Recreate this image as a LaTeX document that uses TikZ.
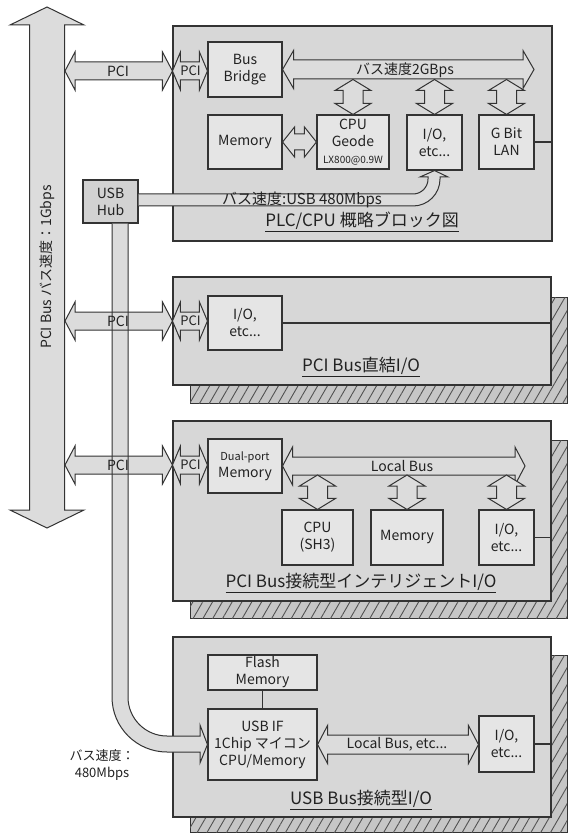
\documentclass[tikz,border=0pt]{standalone}
\usepackage{fontspec}
\setmainfont{Noto Sans CJK JP}
\usetikzlibrary{patterns.meta,calc}
\definecolor{boxbg}{HTML}{D7D7D7}
\definecolor{inbg}{HTML}{E5E5E5}
\definecolor{hubbg}{HTML}{D2D2D2}
\definecolor{arrbg}{HTML}{DCDCDC}
\definecolor{ln}{HTML}{333333}
\definecolor{txt}{HTML}{222222}
\definecolor{hatchbg}{HTML}{C6C6C6}
\newcommand\mybox[7][]{\node[blk,#1,minimum width={#5pt-#3pt},minimum height={#6pt-#4pt}] (#2) at ({(#3+#5)/2},{(#4+#6)/2}) {#7};}
% horizontal double fat arrow: from, to, shaft half, head half, head length
\newcommand\hfat[5]{\draw[fat] let \p1=#1, \p2=#2 in (\x1,\y1) -- ({\x1+#5pt},{\y1+#4pt}) -- ({\x1+#5pt},{\y1+#3pt}) -- ({\x2-#5pt},{\y1+#3pt}) -- ({\x2-#5pt},{\y1+#4pt}) -- (\x2,\y1) -- ({\x2-#5pt},{\y1-#4pt}) -- ({\x2-#5pt},{\y1-#3pt}) -- ({\x1+#5pt},{\y1-#3pt}) -- ({\x1+#5pt},{\y1-#4pt}) -- cycle;}
% vertical double fat arrow: top, bottom, shaft half, head half, head length
\newcommand\vfat[5]{\draw[fat] let \p1=#1, \p2=#2 in (\x1,\y1) -- ({\x1+#4pt},{\y1-#5pt}) -- ({\x1+#3pt},{\y1-#5pt}) -- ({\x1+#3pt},{\y2+#5pt}) -- ({\x1+#4pt},{\y2+#5pt}) -- (\x1,\y2) -- ({\x1-#4pt},{\y2+#5pt}) -- ({\x1-#3pt},{\y2+#5pt}) -- ({\x1-#3pt},{\y1-#5pt}) -- ({\x1-#4pt},{\y1-#5pt}) -- cycle;}
\begin{document}
\begin{tikzpicture}[x=1pt,y=-1pt,
  blk/.style={draw=ln,line width=1.1pt,fill=inbg,align=center,inner sep=0pt,text=txt,font=\fontsize{14}{17}\selectfont},
  big/.style={draw=ln,line width=1.1pt,fill=boxbg,inner sep=0pt},
  shadowbox/.style={draw=ln,line width=1pt,fill=hatchbg},
  hatch/.style={pattern={Lines[angle=60,distance=8.5pt,line width=0.9pt]},pattern color=ln!85},
  fat/.style={draw=ln,line width=1pt,fill=arrbg,line join=miter},
  lbl/.style={text=txt,inner sep=0pt,font=\fontsize{14}{17}\selectfont,align=center},
  title/.style={text=txt,inner sep=0pt,font=\fontsize{17}{20}\selectfont},
  thin/.style={draw=ln,line width=1.1pt}]
\useasboundingbox (0,0) rectangle (568,834);
\fill[white] (0,0) rectangle (568,834);

% shadows
\draw[shadowbox] (190,297) rectangle (567,403);
\fill[hatch] (190,297) rectangle (567,403);
\draw[shadowbox] (190,440) rectangle (567,618);
\fill[hatch] (190,440) rectangle (567,618);
\draw[shadowbox] (190,655) rectangle (567,832);
\fill[hatch] (190,655) rectangle (567,832);

% big boxes
\mybox[big]{plc}{173}{26}{552}{241}{}
\mybox[big]{pcio}{173}{277}{551}{385}{}
\mybox[big]{intel}{173}{421}{551}{601}{}
\mybox[big]{usbio}{173}{637}{551}{817}{}

% inner boxes
\mybox{bb}{208}{42}{282}{97}{Bus\\Bridge}
\mybox{mem1}{208}{115}{282}{169}{Memory}
\mybox{cpu1}{317}{115}{389}{169}{CPU\\Geode\\{\fontsize{10}{12}\selectfont LX800@0.9W}}
\mybox{io1}{407}{115}{462}{170}{I/O,\\etc...}
\mybox{lan}{479}{115}{534}{169}{G Bit\\LAN}
\mybox[fill=hubbg]{hub}{83}{180}{138}{223}{USB\\Hub}
\mybox{io2}{208}{296}{282}{350}{I/O,\\etc...}
\mybox{dp}{208}{439}{282}{493}{{\fontsize{11}{14}\selectfont Dual-port}\\Memory}
\mybox{cpu3}{282}{510}{353}{565}{CPU\\(SH3)}
\mybox{mem3}{371}{510}{443}{565}{Memory}
\mybox{io3}{479}{510}{534}{565}{I/O,\\etc...}
\mybox{flash}{208}{655}{317}{690}{Flash\\Memory}
\mybox{usbif}{208}{709}{317}{780}{USB IF\\1Chip マイコン\\CPU/Memory}
\mybox{io4}{479}{716}{534}{772}{I/O,\\etc...}

% thin connectors
\draw[thin] (lan.east) -- (lan.east -| plc.east);
\draw[thin] (io2.east) -- (io2.east -| pcio.east);
\draw[thin] (io3.east) -- (io3.east -| intel.east);
\draw[thin] (io4.east) -- (io4.east -| usbio.east);
\draw[thin] (flash) -- (usbif);

% USB bands (fill)
\fill[arrbg] (hub.south -| 112,0) -- (112,697) arc[start angle=180,end angle=90,radius=55] -- (200,752) -- (200,763) -- (usbif.west) -- (200,725) -- (200,736) -- (167,736) arc[start angle=90,end angle=180,radius=39] -- (128,697) -- (hub.south -| 128,0) -- cycle;
\fill[arrbg] (hub.east |- 0,194) -- (413,194) arc[start angle=90,end angle=0,radius=15] -- (428,177) -- (420,177) -- (io1.south) -- (448,177) -- (440,177) -- (440,179) arc[start angle=0,end angle=90,radius=27] -- (hub.east |- 0,206) -- cycle;

% coordinates
\coordinate (pcitop) at (47,7);
\coordinate (pcibot) at (47,528);
\coordinate (p1a) at (65,71);
\coordinate (p2a) at (65,321);
\coordinate (p3a) at (65,465);
\coordinate (bus1e) at (534,70);
\coordinate (b1) at (300,79.5);
\coordinate (lb3e) at (525,466);
\coordinate (b3) at (300,475);

% fat arrows
\vfat{(pcitop)}{(pcibot)}{17.5}{37}{18}
\hfat{(p1a)}{(p1a -| plc.west)}{9}{19}{10}
\hfat{(p1a -| plc.west)}{(p1a -| bb.west)}{9}{19}{8}
\hfat{(p2a)}{(p2a -| pcio.west)}{9}{19}{10}
\hfat{(p2a -| pcio.west)}{(p2a -| io2.west)}{9}{19}{8}
\hfat{(p3a)}{(p3a -| intel.west)}{9}{19}{10}
\hfat{(p3a -| intel.west)}{(p3a -| dp.west)}{9}{19}{8}
\hfat{(bb.east)}{(bus1e)}{9.5}{19}{11}
\vfat{(b1 -| cpu1.north)}{(cpu1.north)}{10}{18}{11}
\vfat{(b1 -| io1.north)}{(io1.north)}{10}{18}{11}
\vfat{(b1 -| lan.north)}{(lan.north)}{10}{18}{11}
\hfat{(mem1.east)}{(cpu1.west)}{8}{15}{12}
\hfat{(dp.east)}{(lb3e)}{9}{19}{10}
\vfat{(b3 -| cpu3.north)}{(cpu3.north)}{10}{18}{11}
\vfat{(b3 -| mem3.north)}{(mem3.north)}{10}{18}{11}
\vfat{(b3 -| io3.north)}{(io3.north)}{10}{18}{11}
\hfat{(usbif.east)}{(io4.west)}{9.5}{19}{10}

% USB bands (outline)
\draw[fat,fill=none] (hub.south -| 112,0) -- (112,697) arc[start angle=180,end angle=90,radius=55] -- (200,752) -- (200,763) -- (usbif.west) -- (200,725) -- (200,736) -- (167,736) arc[start angle=90,end angle=180,radius=39] -- (128,697) -- (hub.south -| 128,0);
\draw[fat,fill=none] (hub.east |- 0,194) -- (413,194) arc[start angle=90,end angle=0,radius=15] -- (428,177) -- (420,177) -- (io1.south) -- (448,177) -- (440,177) -- (440,179) arc[start angle=0,end angle=90,radius=27] -- (hub.east |- 0,206);

% labels
\node[lbl] (l1) at (118,71) {PCI};
\node[lbl,font=\fontsize{13}{15}\selectfont] (l1s) at (190.5,71) {PCI};
\node[lbl] (l2) at (118,321) {PCI};
\node[lbl,font=\fontsize{13}{15}\selectfont] (l2s) at (190.5,321) {PCI};
\node[lbl] (l3) at (118,465) {PCI};
\node[lbl,font=\fontsize{13}{15}\selectfont] (l3s) at (190.5,465) {PCI};
\node[lbl] (lbus1) at (405,70) {バス速度2GBps};
\node[lbl,font=\fontsize{15}{17}\selectfont] (lusb) at (302,200) {バス速度:USB 480Mbps};
\node[lbl,rotate=90] (lpci) at (47,267) {PCI Bus バス速度：1Gbps};
\node[lbl] (llb3) at (402,466) {Local Bus};
\node[lbl] (llb4) at (397,744) {Local Bus, etc...};
\node[lbl,font=\fontsize{13}{17}\selectfont] (lusbs) at (102,765) {バス速度：\\480Mbps};

\node[title] (t1) at (362,222) {\underline{PLC/CPU 概略ブロック図}};
\node[title] (t2) at (361,367) {\underline{PCI Bus直結I/O}};
\node[title] (t3) at (361,583) {\underline{PCI Bus接続型インテリジェントI/O}};
\node[title] (t4) at (361,800) {\underline{USB Bus接続型I/O}};
\end{tikzpicture}
\end{document}
